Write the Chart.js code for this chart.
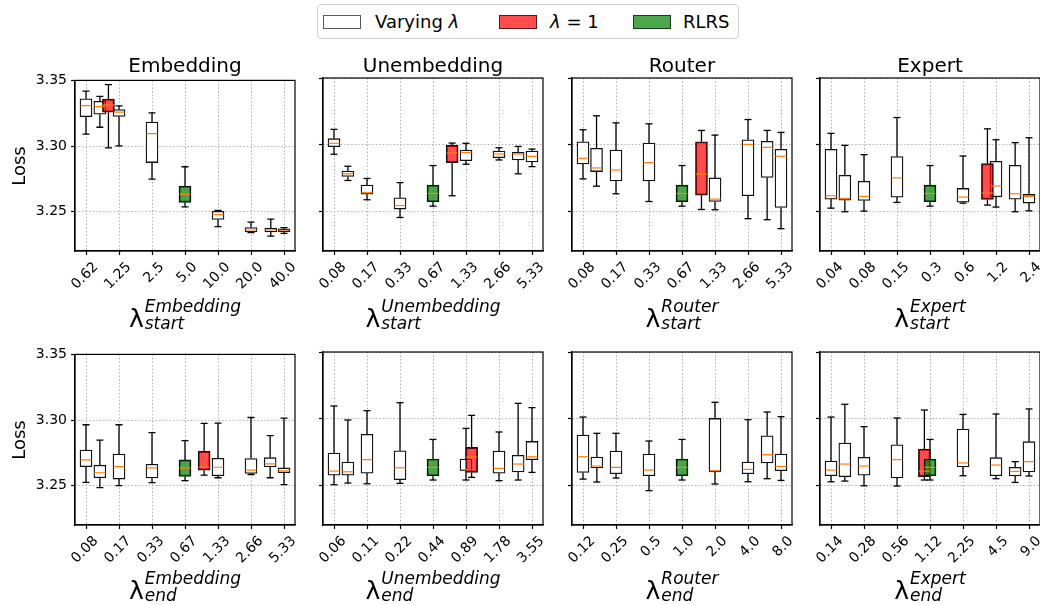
<!DOCTYPE html>
<html>
<head>
<meta charset="utf-8">
<script src="https://cdn.jsdelivr.net/npm/chart.js@4.4.0/dist/chart.umd.min.js"></script>
<style>
    html, body { margin: 0; padding: 0; background: #fff; }
    body { width: 1040px; height: 605px; overflow: hidden; position: relative; font-family: 'DejaVu Sans', sans-serif; color: #000; }
    canvas { position: absolute; }
    .title { position: absolute; width: 220px; text-align: center; font-size: 20px; line-height: 20px; white-space: nowrap; }
    .ylab { position: absolute; width: 80px; text-align: center; font-size: 18px; line-height: 18px; transform: rotate(-90deg); }
    .xlab { position: absolute; width: 220px; display: flex; justify-content: center; align-items: flex-start; white-space: nowrap; }
    .xlab .lam { font-size: 25px; line-height: 25px; margin-top: 8px; }
    .xlab .scr { display: flex; flex-direction: column; font-size: 17px; line-height: 17px; font-style: italic; margin-left: 1px; }
    #legend { position: absolute; left: 317px; top: 4px; width: 420px; height: 33px; border: 1px solid #d0d0d0; border-radius: 4px; background: #fff; }
    #legend .patch { position: absolute; top: 10px; width: 36px; height: 12px; border: 1px solid rgba(0,0,0,0.65); }
    #legend .txt { position: absolute; top: 8px; font-size: 18px; line-height: 18px; white-space: nowrap; }
</style>
</head>
<body>
<div id="legend">
    <div class="patch" style="left:5px;background:#fff"></div>
    <div class="txt" style="left:57px">Varying <i>λ</i></div>
    <div class="patch" style="left:181px;background:rgba(255,0,0,0.7)"></div>
    <div class="txt" style="left:232px"><i>λ</i> = 1</div>
    <div class="patch" style="left:315px;background:rgba(0,128,0,0.7)"></div>
    <div class="txt" style="left:365px">RLRS</div>
</div>
<script>
/* ============================================
   Loss vs lambda - box plots per layer type
   ============================================ */
const yTicks = [3.25, 3.30, 3.35];
const yMin = 3.22;
const yMax = 3.35;

// boxes are [whisker low, q1, median, q3, whisker high]; pos is on the tick-index axis
// kind: v = varying lambda, r = lambda 1, g = RLRS
const embStartTicks = ['0.62', '1.25', '2.5', '5.0', '10.0', '20.0', '40.0'];
const embStartPos = [0, 0.42, 0.68, 1, 2, 3, 4, 5, 5.6, 6];
const embStartKind = ['v', 'v', 'r', 'v', 'v', 'g', 'v', 'v', 'v', 'v'];
const embStartBoxes = [
    [3.309, 3.3224, 3.3308, 3.336, 3.3418],
    [3.3143, 3.3243, 3.330, 3.334, 3.3378],
    [3.2986, 3.3258, 3.3313, 3.3358, 3.3468],
    [3.3001, 3.3226, 3.3258, 3.3278, 3.3306],
    [3.2747, 3.2874, 3.3094, 3.3183, 3.3253],
    [3.2537, 3.257, 3.2632, 3.2695, 3.2842],
    [3.2385, 3.244, 3.2477, 3.2502, 3.251],
    [3.234, 3.2345, 3.236, 3.2378, 3.242],
    [3.2313, 3.2345, 3.236, 3.2373, 3.2443],
    [3.2335, 3.2348, 3.2358, 3.2368, 3.2378]
];

const unembStartTicks = ['0.08', '0.17', '0.33', '0.67', '1.33', '2.66', '5.33'];
const unembStartPos = [0, 0.42, 1, 2, 3, 3.58, 4, 5, 5.58, 6];
const unembStartKind = ['v', 'v', 'v', 'v', 'g', 'r', 'v', 'v', 'v', 'v'];
const unembStartBoxes = [
    [3.2927, 3.2984, 3.3009, 3.3044, 3.3114],
    [3.273, 3.276, 3.278, 3.280, 3.2837],
    [3.2585, 3.2627, 3.264, 3.2695, 3.2745],
    [3.2452, 3.2515, 3.2542, 3.260, 3.2714],
    [3.2537, 3.257, 3.2632, 3.2695, 3.2842],
    [3.2615, 3.2864, 3.2936, 3.2994, 3.3011],
    [3.2852, 3.2879, 3.2941, 3.2959, 3.3009],
    [3.2884, 3.2901, 3.2929, 3.2951, 3.2976],
    [3.278, 3.2884, 3.2929, 3.2941, 3.2986],
    [3.2834, 3.2869, 3.2911, 3.2951, 3.2966]
];

const routerStartTicks = ['0.08', '0.17', '0.33', '0.67', '1.33', '2.66', '5.33'];
const routerStartPos = [0, 0.41, 1, 2, 3, 3.59, 4, 5, 5.58, 6];
const routerStartKind = ['v', 'v', 'v', 'v', 'g', 'r', 'v', 'v', 'v', 'v'];
const routerStartBoxes = [
    [3.2742, 3.2854, 3.2897, 3.3021, 3.3111],
    [3.2687, 3.2797, 3.2824, 3.2971, 3.3216],
    [3.263, 3.2727, 3.2809, 3.2959, 3.3163],
    [3.2572, 3.2727, 3.2864, 3.3011, 3.3156],
    [3.2537, 3.257, 3.2632, 3.2695, 3.2842],
    [3.2512, 3.262, 3.2777, 3.3021, 3.3106],
    [3.251, 3.2572, 3.259, 3.2749, 3.3071],
    [3.2443, 3.2615, 3.3001, 3.3036, 3.3188],
    [3.2435, 3.2752, 3.2979, 3.3024, 3.3106],
    [3.2368, 3.2527, 3.2912, 3.2964, 3.3091]
];

const expertStartTicks = ['0.04', '0.08', '0.15', '0.3', '0.6', '1.2', '2.4'];
const expertStartPos = [0, 0.42, 1, 2, 3, 4, 4.74, 5, 5.58, 6];
const expertStartKind = ['v', 'v', 'v', 'v', 'g', 'v', 'r', 'v', 'v', 'v'];
const expertStartBoxes = [
    [3.2522, 3.259, 3.2615, 3.2964, 3.3084],
    [3.2495, 3.2582, 3.2595, 3.2769, 3.2994],
    [3.25, 3.258, 3.261, 3.2724, 3.2924],
    [3.2565, 3.2605, 3.2749, 3.2909, 3.3203],
    [3.2537, 3.257, 3.2632, 3.2695, 3.2842],
    [3.256, 3.2567, 3.2605, 3.267, 3.2914],
    [3.2545, 3.2587, 3.2635, 3.2857, 3.3118],
    [3.253, 3.2607, 3.2689, 3.2874, 3.3036],
    [3.2495, 3.259, 3.263, 3.2844, 3.3014],
    [3.2502, 3.256, 3.261, 3.2625, 3.3051]
];

const embEndTicks = ['0.08', '0.17', '0.33', '0.67', '1.33', '2.66', '5.33'];
const embEndPos = [0, 0.42, 1, 2, 3, 3.58, 4, 5, 5.58, 6];
const embEndKind = ['v', 'v', 'v', 'v', 'g', 'r', 'v', 'v', 'v', 'v'];
const embEndBoxes = [
    [3.2525, 3.2645, 3.2696, 3.2771, 3.2964],
    [3.2485, 3.256, 3.2598, 3.2656, 3.2846],
    [3.25, 3.255, 3.2645, 3.2741, 3.2964],
    [3.2523, 3.2558, 3.2635, 3.2663, 3.2904],
    [3.2538, 3.257, 3.2633, 3.2696, 3.2843],
    [3.258, 3.2618, 3.264, 3.2761, 3.2974],
    [3.256, 3.2575, 3.264, 3.2708, 3.2976],
    [3.2585, 3.2593, 3.2618, 3.2706, 3.3019],
    [3.256, 3.2643, 3.2666, 3.2713, 3.2881],
    [3.2508, 3.2598, 3.2613, 3.2635, 3.3014]
];

const unembEndTicks = ['0.06', '0.11', '0.22', '0.44', '0.89', '1.78', '3.55'];
const unembEndPos = [0, 0.42, 1, 2, 3, 4, 4.17, 5, 5.58, 6];
const unembEndKind = ['v', 'v', 'v', 'v', 'g', 'v', 'r', 'v', 'v', 'v'];
const unembEndBoxes = [
    [3.2503, 3.2575, 3.2605, 3.2741, 3.3094],
    [3.2515, 3.2575, 3.26, 3.2673, 3.2989],
    [3.251, 3.259, 3.2691, 3.2881, 3.3059],
    [3.2513, 3.254, 3.263, 3.2758, 3.3119],
    [3.2538, 3.257, 3.2633, 3.2696, 3.2843],
    [3.2538, 3.2608, 3.2615, 3.2696, 3.2926],
    [3.2558, 3.2595, 3.2711, 3.2783, 3.3024],
    [3.2533, 3.259, 3.2625, 3.2756, 3.2899],
    [3.2538, 3.2598, 3.2658, 3.2723, 3.3114],
    [3.2595, 3.2691, 3.2713, 3.2828, 3.3082]
];

const routerEndTicks = ['0.12', '0.25', '0.5', '1.0', '2.0', '4.0', '8.0'];
const routerEndPos = [0, 0.42, 1, 2, 3, 4, 5, 5.58, 6];
const routerEndKind = ['v', 'v', 'v', 'v', 'g', 'v', 'v', 'v', 'v'];
const routerEndBoxes = [
    [3.2545, 3.2595, 3.2713, 3.2876, 3.3011],
    [3.2523, 3.2628, 3.2643, 3.2711, 3.2889],
    [3.2553, 3.2585, 3.2633, 3.2756, 3.2889],
    [3.2458, 3.257, 3.2613, 3.2733, 3.2831],
    [3.2538, 3.257, 3.2633, 3.2696, 3.2843],
    [3.2508, 3.2598, 3.2608, 3.3001, 3.3122],
    [3.2525, 3.2585, 3.2618, 3.2673, 3.2991],
    [3.2548, 3.2666, 3.2728, 3.2871, 3.3049],
    [3.2535, 3.2608, 3.264, 3.2733, 3.3014]
];

const expertEndTicks = ['0.14', '0.28', '0.56', '1.12', '2.25', '4.5', '9.0'];
const expertEndPos = [0, 0.42, 1, 2, 2.83, 3, 4, 5, 5.58, 6];
const expertEndKind = ['v', 'v', 'v', 'v', 'r', 'g', 'v', 'v', 'v', 'v'];
const expertEndBoxes = [
    [3.2525, 3.257, 3.2613, 3.268, 3.3011],
    [3.253, 3.2563, 3.2658, 3.2816, 3.3107],
    [3.2495, 3.2575, 3.2643, 3.2708, 3.2939],
    [3.2493, 3.2553, 3.2691, 3.2803, 3.3004],
    [3.2538, 3.2563, 3.2605, 3.2771, 3.3064],
    [3.2538, 3.257, 3.2633, 3.2696, 3.2843],
    [3.257, 3.2636, 3.2666, 3.2921, 3.3031],
    [3.2548, 3.257, 3.2651, 3.2706, 3.3034],
    [3.252, 3.2568, 3.2603, 3.2633, 3.2676],
    [3.2568, 3.2598, 3.2676, 3.2826, 3.3072]
];

const colLeft = [75, 323, 572, 820];
const rowTop = [78, 352];
const titles = ['Embedding', 'Unembedding', 'Router', 'Expert'];

const panels = [
    { col: 0, row: 0, sub: 'start', ticks: embStartTicks, pos: embStartPos, kind: embStartKind, boxes: embStartBoxes },
    { col: 1, row: 0, sub: 'start', ticks: unembStartTicks, pos: unembStartPos, kind: unembStartKind, boxes: unembStartBoxes },
    { col: 2, row: 0, sub: 'start', ticks: routerStartTicks, pos: routerStartPos, kind: routerStartKind, boxes: routerStartBoxes },
    { col: 3, row: 0, sub: 'start', ticks: expertStartTicks, pos: expertStartPos, kind: expertStartKind, boxes: expertStartBoxes },
    { col: 0, row: 1, sub: 'end', ticks: embEndTicks, pos: embEndPos, kind: embEndKind, boxes: embEndBoxes },
    { col: 1, row: 1, sub: 'end', ticks: unembEndTicks, pos: unembEndPos, kind: unembEndKind, boxes: unembEndBoxes },
    { col: 2, row: 1, sub: 'end', ticks: routerEndTicks, pos: routerEndPos, kind: routerEndKind, boxes: routerEndBoxes },
    { col: 3, row: 1, sub: 'end', ticks: expertEndTicks, pos: expertEndPos, kind: expertEndKind, boxes: expertEndBoxes }
];

const FILL = { v: '#ffffff', r: 'rgba(255,0,0,0.7)', g: 'rgba(0,128,0,0.7)' };
const ORDER = { g: 1, r: 2, v: 3 };
const tickFont = { family: 'DejaVu Sans', size: 14 };

// top and right spines
const framePlugin = {
    id: 'frame',
    afterDraw(chart) {
        const { ctx, chartArea: a } = chart;
        ctx.save();
        ctx.strokeStyle = '#000';
        ctx.lineWidth = 1.2;
        ctx.strokeRect(a.left, a.top, a.right - a.left, a.bottom - a.top);
        ctx.restore();
    }
};

function addText(cls, html, left, top) {
    const d = document.createElement('div');
    d.className = cls;
    d.innerHTML = html;
    d.style.left = left + 'px';
    d.style.top = top + 'px';
    document.body.appendChild(d);
}

function buildPanel(p) {
    const left = colLeft[p.col];
    const top = rowTop[p.row];
    const canvas = document.createElement('canvas');
    canvas.width = 290;
    canvas.height = 233;
    canvas.style.left = (left - 60) + 'px';
    canvas.style.top = (top - 10) + 'px';
    document.body.appendChild(canvas);

    const boxSets = ['g', 'r', 'v'].map(k => ({
        type: 'bar',
        order: ORDER[k],
        stack: 'all',
        barThickness: 12,
        backgroundColor: FILL[k],
        borderColor: '#111',
        borderWidth: 1.3,
        borderSkipped: false,
        data: p.pos.map((x, i) => p.kind[i] === k ? { x, y: [p.boxes[i][1], p.boxes[i][3]] } : null).filter(Boolean)
    }));

    const whiskers = {
        type: 'bar',
        order: 5,
        stack: 'all',
        barThickness: 1.3,
        inflateAmount: 0,
        backgroundColor: '#000',
        borderWidth: 0,
        data: p.pos.flatMap((x, i) => [
            { x, y: [p.boxes[i][3], p.boxes[i][4]] },
            { x, y: [p.boxes[i][0], p.boxes[i][1]] }
        ])
    };

    const caps = {
        type: 'line',
        order: 4,
        showLine: false,
        pointStyle: 'line',
        pointRadius: 3.5,
        pointBorderWidth: 1.3,
        pointBorderColor: '#000',
        data: p.pos.flatMap((x, i) => [{ x, y: p.boxes[i][4] }, { x, y: p.boxes[i][0] }])
    };

    const medians = {
        type: 'line',
        order: 0,
        showLine: false,
        pointStyle: 'line',
        pointRadius: 5.5,
        pointBorderWidth: 1.2,
        pointBorderColor: '#ff7f0e',
        data: p.pos.map((x, i) => ({ x, y: p.boxes[i][2] }))
    };

    new Chart(canvas, {
        type: 'bar',
        data: { datasets: [medians, ...boxSets, caps, whiskers] },
        options: {
            responsive: false,
            animation: false,
            devicePixelRatio: 1,
            events: [],
            layout: { padding: { top: 10, right: 10, left: 0, bottom: 0 } },
            plugins: { legend: { display: false }, tooltip: { enabled: false } },
            scales: {
                x: {
                    type: 'linear',
                    min: -1 / 3,
                    max: 6 + 1 / 3,
                    offset: false,
                    bounds: 'data',
                    afterBuildTicks: s => { s.ticks = p.ticks.map((_, i) => ({ value: i })); },
                    afterFit: s => { s.height = 50; },
                    ticks: {
                        autoSkip: false,
                        minRotation: 45,
                        maxRotation: 45,
                        labelOffset: 10,
                        padding: 4,
                        color: '#000',
                        font: tickFont,
                        callback: v => p.ticks[Math.round(v)]
                    },
                    grid: { offset: false, color: '#b0b0b0', lineWidth: 1, tickColor: '#000', tickLength: 4, tickWidth: 1.2, tickBorderDash: [] },
                    border: { display: true, color: '#000', width: 1.2, dash: [1.5, 2] }
                },
                y: {
                    type: 'linear',
                    min: yMin,
                    max: yMax,
                    stacked: false,
                    afterBuildTicks: s => { s.ticks = yTicks.map(v => ({ value: v })); },
                    afterFit: s => { s.width = 60; },
                    ticks: {
                        display: p.col === 0,
                        padding: 4,
                        color: '#000',
                        font: tickFont,
                        callback: v => v.toFixed(2)
                    },
                    grid: { color: '#b0b0b0', lineWidth: 1, tickColor: '#000', tickLength: 4, tickWidth: 1.2, tickBorderDash: [] },
                    border: { display: true, color: '#000', width: 1.2, dash: [1.5, 2] }
                }
            }
        },
        plugins: [framePlugin]
    });

    if (p.row === 0) addText('title', titles[p.col], left, 55);
    if (p.col === 0) addText('ylab', 'Loss', 18.5 - 40, top + 88 - 9);
    addText('xlab', '<span class="lam">λ</span><span class="scr"><span>' + titles[p.col] + '</span><span>' + p.sub + '</span></span>',
        left, p.row === 0 ? 298 : 570);
}

panels.forEach(buildPanel);
</script>
</body>
</html>
